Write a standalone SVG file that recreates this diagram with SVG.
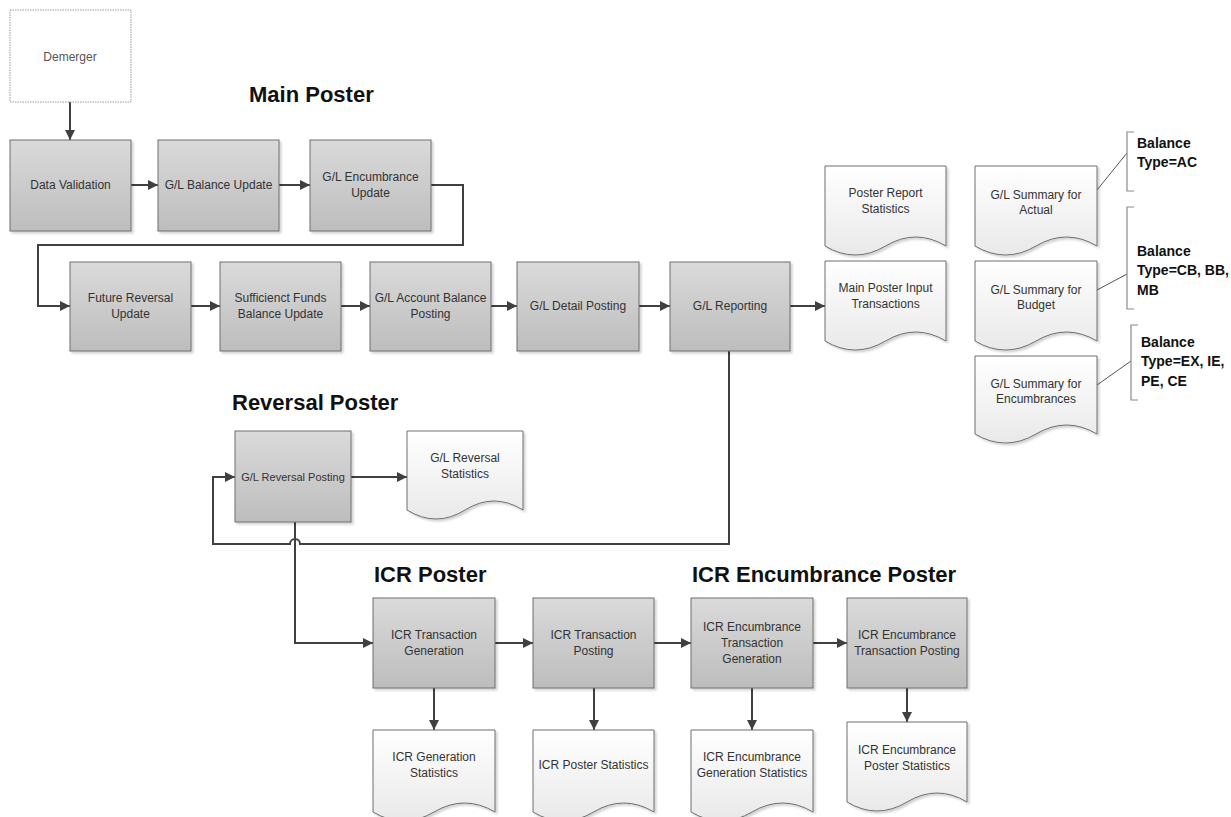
<svg xmlns="http://www.w3.org/2000/svg" width="1231" height="817" viewBox="0 0 1231 817">
<style>
.box{fill:url(#gBox);stroke:#6e6e6e;stroke-width:1;filter:url(#sh)}
.doc{fill:url(#gDoc);stroke:#6e6e6e;stroke-width:1;filter:url(#sh)}
.lbl{font-family:"Liberation Sans",Arial,sans-serif;font-size:12px;fill:#333;text-anchor:middle}
.ttl{font-family:"Liberation Sans",Arial,sans-serif;font-size:22px;font-weight:bold;fill:#111}
.ann{font-family:"Liberation Sans",Arial,sans-serif;font-size:14px;font-weight:bold;fill:#111}
.con{fill:none;stroke:#404040;stroke-width:2}
.arr{marker-end:url(#ah)}
.brk{fill:none;stroke:#8a8a8a;stroke-width:1.2}
.lead{fill:none;stroke:#555;stroke-width:1}
</style>
<defs>
<linearGradient id="gBox" x1="0" y1="0" x2="0" y2="1">
<stop offset="0" stop-color="#dadada"/><stop offset="1" stop-color="#bdbdbd"/>
</linearGradient>
<linearGradient id="gDoc" x1="0" y1="0" x2="0" y2="1">
<stop offset="0" stop-color="#ffffff"/><stop offset="1" stop-color="#e9e9e9"/>
</linearGradient>
<filter id="sh" x="-10%" y="-10%" width="130%" height="130%">
<feDropShadow dx="2" dy="2" stdDeviation="0.8" flood-color="#000" flood-opacity="0.18"/>
</filter>
<marker id="ah" markerUnits="userSpaceOnUse" markerWidth="10" markerHeight="10" viewBox="0 0 10 10" refX="10" refY="5" orient="auto">
<path d="M0,0 L10,5 L0,10 z" fill="#404040"/>
</marker>
</defs>

<rect width="1231" height="817" fill="#ffffff"/>

<!-- titles -->
<text class="ttl" x="249" y="102">Main Poster</text>
<text class="ttl" x="232" y="410">Reversal Poster</text>
<text class="ttl" x="374" y="582">ICR Poster</text>
<text class="ttl" x="692" y="582">ICR Encumbrance Poster</text>

<!-- connectors -->
<g id="connectors">
<path class="con arr" d="M70,102 V140"/>
<path class="con arr" d="M131,185 H158"/>
<path class="con arr" d="M279,185 H310"/>
<path class="con arr" d="M431,185 H463 V245 H38 V306 H70"/>
<path class="con arr" d="M191,306 H220"/>
<path class="con arr" d="M341,306 H370"/>
<path class="con arr" d="M491,306 H517"/>
<path class="con arr" d="M639,306 H670"/>
<path class="con arr" d="M790,306 H825"/>
<path class="con arr" d="M729,351 V544 H300 A5,5 0 0 0 290,544 H213 V477 H235"/>
<path class="con arr" d="M351,477 H407"/>
<path class="con arr" d="M295,522 V643 H373"/>
<path class="con arr" d="M495,643 H533"/>
<path class="con arr" d="M654,643 H691"/>
<path class="con arr" d="M813,643 H847"/>
<path class="con arr" d="M434,688 V730"/>
<path class="con arr" d="M594,688 V730"/>
<path class="con arr" d="M752,688 V730"/>
<path class="con arr" d="M907,688 V722"/>
</g>

<!-- annotation brackets -->
<g id="annotations">
<path class="lead" d="M1097,190 L1127,153"/>
<path class="brk" d="M1134,132 H1127 V191 H1134"/>
<text class="ann" x="1137" y="148">Balance</text>
<text class="ann" x="1137" y="167">Type=AC</text>

<path class="lead" d="M1097,290 L1127,274"/>
<path class="brk" d="M1134,207 H1127 V309 H1134"/>
<text class="ann" x="1137" y="256">Balance</text>
<text class="ann" x="1137" y="275">Type=CB, BB,</text>
<text class="ann" x="1137" y="295">MB</text>

<path class="lead" d="M1097,385 L1131,361"/>
<path class="brk" d="M1138,325 H1131 V400 H1138"/>
<text class="ann" x="1141" y="347">Balance</text>
<text class="ann" x="1141" y="366">Type=EX, IE,</text>
<text class="ann" x="1141" y="386">PE, CE</text>
</g>

<!-- nodes -->
<g id="demerger">
<rect x="10" y="10" width="121" height="92" fill="#ffffff" stroke="#9a9a9a" stroke-width="1" stroke-dasharray="1.5,1"/>
<text class="lbl" x="70" y="61" style="fill:#555">Demerger</text>
</g>

<g id="data-validation">
<rect class="box" x="10" y="140" width="121" height="91"/>
<text class="lbl" x="70.5" y="189">Data Validation</text>
</g>
<g id="gl-balance-update">
<rect class="box" x="158" y="140" width="121" height="91"/>
<text class="lbl" x="218.5" y="189">G/L Balance Update</text>
</g>
<g id="gl-encumbrance-update">
<rect class="box" x="310" y="140" width="121" height="91"/>
<text class="lbl" x="370.5" y="181">G/L Encumbrance<tspan x="370.5" dy="16">Update</tspan></text>
</g>

<g id="future-reversal-update">
<rect class="box" x="70" y="262" width="121" height="89"/>
<text class="lbl" x="130.5" y="302">Future Reversal<tspan x="130.5" dy="16">Update</tspan></text>
</g>
<g id="sufficienct-funds">
<rect class="box" x="220" y="262" width="121" height="89"/>
<text class="lbl" x="280.5" y="302">Sufficienct Funds<tspan x="280.5" dy="16">Balance Update</tspan></text>
</g>
<g id="gl-account-balance-posting">
<rect class="box" x="370" y="262" width="121" height="89"/>
<text class="lbl" x="430.5" y="302">G/L Account Balance<tspan x="430.5" dy="16">Posting</tspan></text>
</g>
<g id="gl-detail-posting">
<rect class="box" x="517" y="262" width="122" height="89"/>
<text class="lbl" x="578" y="310">G/L Detail Posting</text>
</g>
<g id="gl-reporting">
<rect class="box" x="670" y="262" width="120" height="89"/>
<text class="lbl" x="730" y="310">G/L Reporting</text>
</g>

<g id="poster-report-statistics">
<path class="doc" d="M825,166 H946 V246 Q915.75,228 885.5,246 T825,246 Z"/>
<text class="lbl" x="885.5" y="197">Poster Report<tspan x="885.5" dy="16">Statistics</tspan></text>
</g>
<g id="main-poster-input-transactions">
<path class="doc" d="M825,261 H946 V341 Q915.75,323 885.5,341 T825,341 Z"/>
<text class="lbl" x="885.5" y="292">Main Poster Input<tspan x="885.5" dy="16">Transactions</tspan></text>
</g>

<g id="gl-summary-actual">
<path class="doc" d="M975,166 H1097 V246 Q1066.5,228 1036,246 T975,246 Z"/>
<text class="lbl" x="1036" y="199">G/L Summary for<tspan x="1036" dy="15">Actual</tspan></text>
</g>
<g id="gl-summary-budget">
<path class="doc" d="M975,261 H1097 V341 Q1066.5,323 1036,341 T975,341 Z"/>
<text class="lbl" x="1036" y="294">G/L Summary for<tspan x="1036" dy="15">Budget</tspan></text>
</g>
<g id="gl-summary-encumbrances">
<path class="doc" d="M975,356 H1097 V434 Q1066.5,416 1036,434 T975,434 Z"/>
<text class="lbl" x="1036" y="388">G/L Summary for<tspan x="1036" dy="15">Encumbrances</tspan></text>
</g>

<g id="gl-reversal-posting">
<rect class="box" x="235" y="431" width="116" height="91"/>
<text class="lbl" x="293" y="481" style="font-size:11px">G/L Reversal Posting</text>
</g>
<g id="gl-reversal-statistics">
<path class="doc" d="M407,431 H523 V510 Q494,492 465,510 T407,510 Z"/>
<text class="lbl" x="465" y="462">G/L Reversal<tspan x="465" dy="16">Statistics</tspan></text>
</g>

<g id="icr-transaction-generation">
<rect class="box" x="373" y="598" width="122" height="90"/>
<text class="lbl" x="434" y="639">ICR Transaction<tspan x="434" dy="16">Generation</tspan></text>
</g>
<g id="icr-transaction-posting">
<rect class="box" x="533" y="598" width="121" height="90"/>
<text class="lbl" x="593.5" y="639">ICR Transaction<tspan x="593.5" dy="16">Posting</tspan></text>
</g>
<g id="icr-encumbrance-transaction-generation">
<rect class="box" x="691" y="598" width="122" height="90"/>
<text class="lbl" x="752" y="631">ICR Encumbrance<tspan x="752" dy="16">Transaction</tspan><tspan x="752" dy="16">Generation</tspan></text>
</g>
<g id="icr-encumbrance-transaction-posting">
<rect class="box" x="847" y="598" width="120" height="90"/>
<text class="lbl" x="907" y="639">ICR Encumbrance<tspan x="907" dy="16">Transaction Posting</tspan></text>
</g>

<g id="icr-generation-statistics">
<path class="doc" d="M373,730 H495 V812 Q464.5,794 434,812 T373,812 Z"/>
<text class="lbl" x="434" y="761">ICR Generation<tspan x="434" dy="16">Statistics</tspan></text>
</g>
<g id="icr-poster-statistics">
<path class="doc" d="M533,730 H654 V812 Q623.75,794 593.5,812 T533,812 Z"/>
<text class="lbl" x="593.5" y="769">ICR Poster Statistics</text>
</g>
<g id="icr-encumbrance-generation-statistics">
<path class="doc" d="M691,730 H813 V812 Q782.5,794 752,812 T691,812 Z"/>
<text class="lbl" x="752" y="761">ICR Encumbrance<tspan x="752" dy="16">Generation Statistics</tspan></text>
</g>
<g id="icr-encumbrance-poster-statistics">
<path class="doc" d="M847,722 H967 V802 Q937,784 907,802 T847,802 Z"/>
<text class="lbl" x="907" y="754">ICR Encumbrance<tspan x="907" dy="16">Poster Statistics</tspan></text>
</g>
</svg>
